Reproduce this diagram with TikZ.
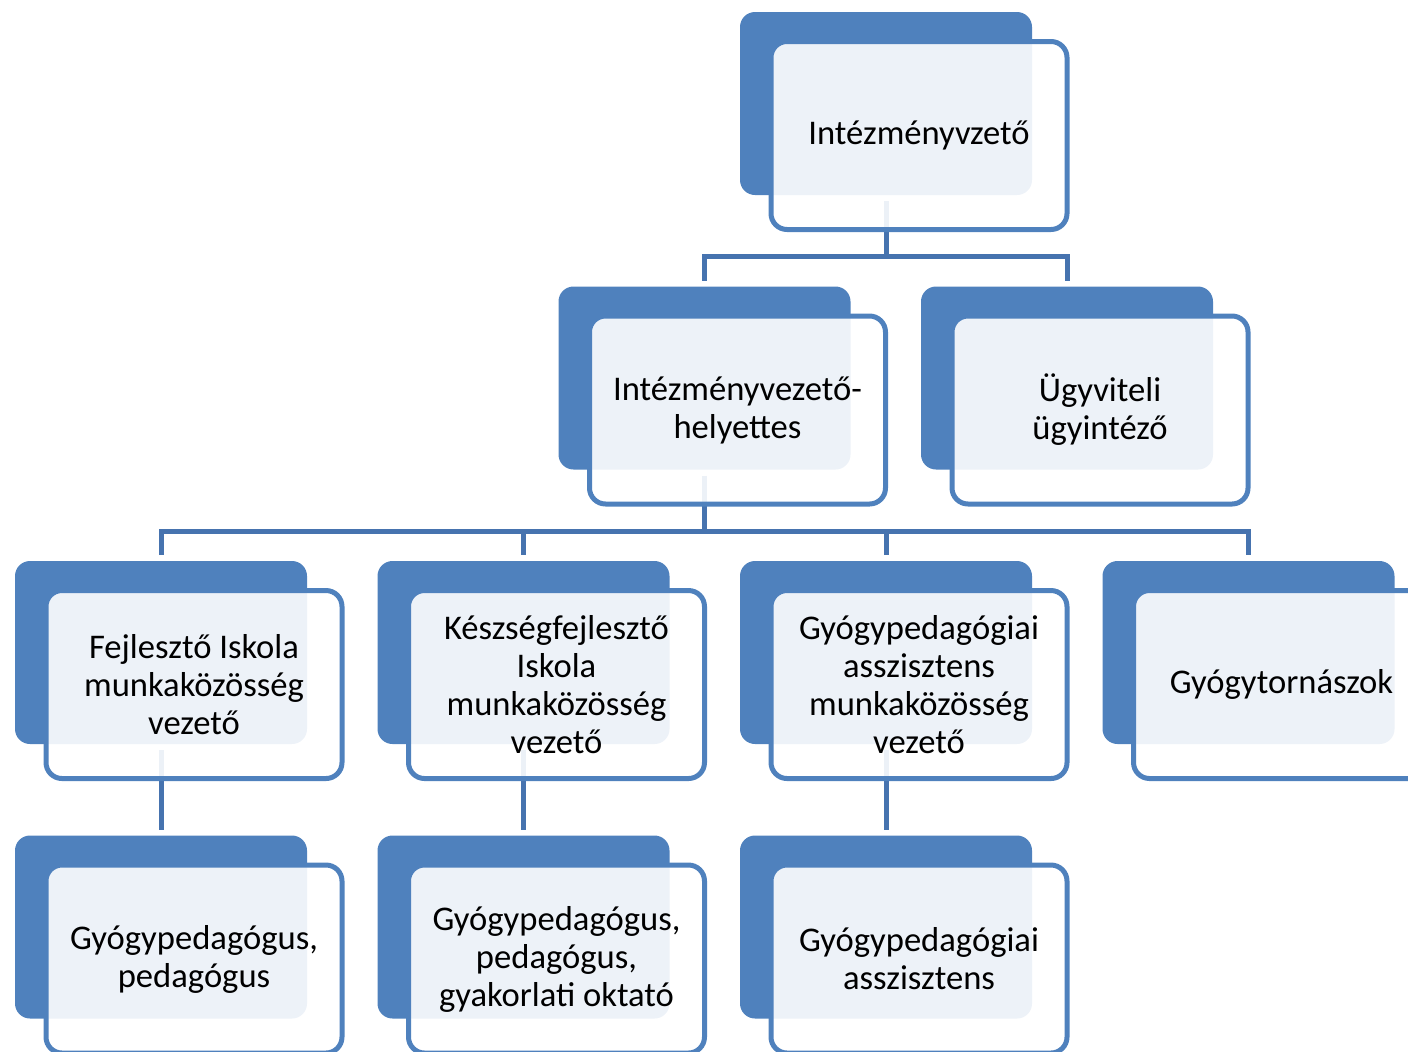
\documentclass[tikz,border=0pt]{standalone}
\usepackage{fontspec}
\setmainfont{Carlito}
\usetikzlibrary{backgrounds}
\definecolor{orgblue}{RGB}{79,129,189}
\definecolor{linkblue}{RGB}{70,115,175}

\begin{document}
\begin{tikzpicture}[x=0.5pt, y=-0.5pt,
    backbox/.style={fill=orgblue, rounded corners=7.5pt, minimum width=146pt,
      minimum height=91.5pt, inner sep=0pt, outer sep=0pt, anchor=north west},
    frontbox/.style={draw=orgblue, line width=2.5pt, fill=white, fill opacity=0.9,
      text opacity=1, rounded corners=8pt, minimum width=148pt, minimum height=94pt,
      inner sep=0pt, outer sep=0pt, anchor=north west, align=center,
      font=\fontsize{17.3}{19}\selectfont},
    link/.style={draw=linkblue, line width=2.5pt}]
  % Page size and crop
  \useasboundingbox (0,0) rectangle (1408,1051);
  \clip (0,0) rectangle (1408,1051);

  % Boxes: dark back panel, light front panel with the text
  \foreach \nm/\px/\py/\txt in {
      vez/740/12/{Intézményvzető},
      hely/558.5/286.5/{Intézményvezető-\\helyettes},
      ugy/921/286.5/{Ügyviteli\\ügyintéző},
      fejl/15/561/{Fejlesztő Iskola\\munkaközösség\\vezető},
      kesz/377.5/561/{Készségfejlesztő\\Iskola\\munkaközösség\\vezető},
      gyasv/740/561/{Gyógypedagógiai\\asszisztens\\munkaközösség\\vezető},
      torna/1102.5/561/{Gyógytornászok},
      ped/15/835.5/{Gyógypedagógus,\\pedagógus},
      okt/377.5/835.5/{Gyógypedagógus,\\pedagógus,\\gyakorlati oktató},
      asz/740/835.5/{Gyógypedagógiai\\asszisztens}} {
    \node [backbox] (\nm-b) at (\px,\py) {};
    \node [frontbox] (\nm) at ([shift={(31,29.5)}]\nm-b.north west) {\txt};
  }

  % Connectors, kept under the boxes
  \begin{pgfonlayer}{background}
    \coordinate (bus1) at ([yshift=-30.75pt]vez-b.south);
    \draw [link] ([yshift=-3pt]vez-b.south) -- (bus1);
    \draw [link] ([yshift=3pt]hely-b.north) |- (bus1) -| ([yshift=3pt]ugy-b.north);

    \coordinate (bus2) at ([yshift=-30.75pt]hely-b.south);
    \draw [link] ([yshift=-3pt]hely-b.south) -- (bus2);
    \draw [link] ([yshift=3pt]fejl-b.north) |- (bus2) -| ([yshift=3pt]torna-b.north);
    \foreach \c in {kesz, gyasv}
      \draw [link] (bus2 -| \c-b.north) -- ([yshift=3pt]\c-b.north);

    \foreach \p/\c in {fejl/ped, kesz/okt, gyasv/asz}
      \draw [link] ([yshift=-3pt]\p-b.south) -- ([yshift=3pt]\c-b.north);
  \end{pgfonlayer}
\end{tikzpicture}
\end{document}
